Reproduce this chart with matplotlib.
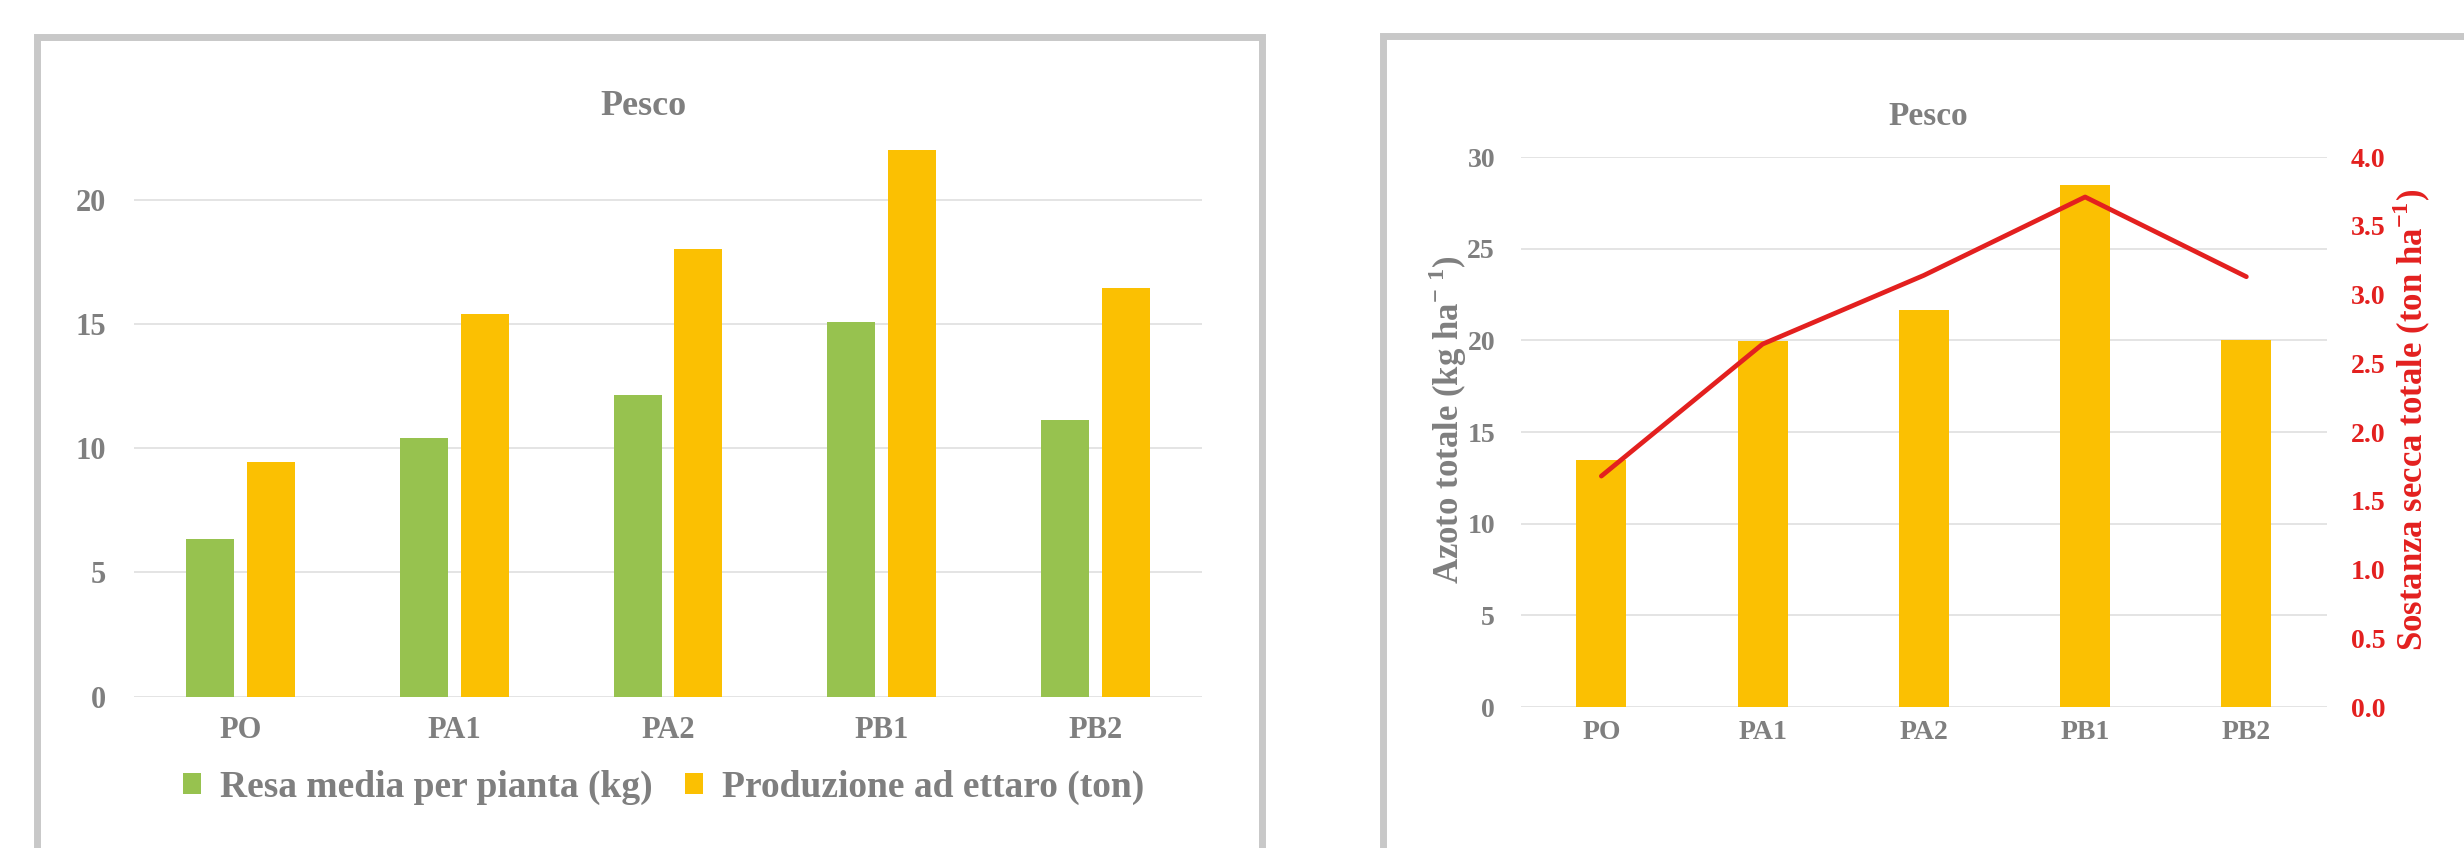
import matplotlib
matplotlib.use("Agg")
import matplotlib.pyplot as plt
from matplotlib.patches import Patch, Rectangle

# ---- data ----
categories = ["PO", "PA1", "PA2", "PB1", "PB2"]
resa_media = [6.36, 10.4, 12.15, 15.1, 11.13]            # kg per pianta
produzione_ettaro = [9.43, 15.42, 18.04, 22.02, 16.47]   # ton per ettaro
azoto_totale = [13.48, 19.96, 21.64, 28.5, 20.0]          # kg ha-1
sostanza_secca = [1.68, 2.64, 3.14, 3.71, 3.13]           # ton ha-1

left_ticks = [0, 5, 10, 15, 20]
right_ticks = [0, 5, 10, 15, 20, 25, 30]
secca_ticks = [0.0, 0.5, 1.0, 1.5, 2.0, 2.5, 3.0, 3.5, 4.0]

# ---- style ----
GREEN = "#97C24F"
GOLD = "#FBC002"
RED = "#E3201F"
TEXT = "#7F7F7F"
GRID = "#DCDCDC"
FRAME = "#C8C8C8"

plt.rcParams["font.family"] = ["Liberation Serif", "DejaVu Serif"]
plt.rcParams["font.weight"] = "bold"
plt.rcParams["mathtext.fontset"] = "custom"
plt.rcParams["mathtext.rm"] = "Liberation Serif:bold"
plt.rcParams["mathtext.bf"] = "Liberation Serif:bold"

W, H = 2464, 848
fig = plt.figure(figsize=(W / 100, H / 100), dpi=100)
fig.patch.set_facecolor("white")


def px_rect(x0, x1, ybot, ytop):
    return [x0 / W, 1 - ybot / H, (x1 - x0) / W, (ybot - ytop) / H]


# chart-area frames
fig.patches.append(Rectangle((36.5 / W, -0.2), (1262 - 36.5) / W, 1.2 - 36.5 / H,
                             transform=fig.transFigure, fill=False,
                             edgecolor=FRAME, linewidth=5.0))
fig.patches.append(Rectangle((1383 / W, -0.2), (2700 - 1383) / W, 1.2 - 36 / H,
                             transform=fig.transFigure, fill=False,
                             edgecolor=FRAME, linewidth=5.0))


def style_axis(ax, size, xpad, ypad):
    for s in ax.spines.values():
        s.set_visible(False)
    ax.set_axisbelow(True)
    ax.yaxis.grid(True, color=GRID, linewidth=1.1)
    ax.tick_params(axis="both", length=0, colors=TEXT, labelsize=size)
    ax.tick_params(axis="x", pad=xpad)
    ax.tick_params(axis="y", pad=ypad)


# ---- left chart: grouped bars ----
ax1 = fig.add_axes(px_rect(134, 1202, 696.6, 696.6 - 22.5 * 24.83))
x = list(range(len(categories)))
w = 0.225
off = 0.1425
ax1.bar([i - off for i in x], resa_media, width=w, color=GREEN,
        label="Resa media per pianta (kg)")
ax1.bar([i + off for i in x], produzione_ettaro, width=w, color=GOLD,
        label="Produzione ad ettaro (ton)")
ax1.set_xlim(-0.5, len(categories) - 0.5)
ax1.set_ylim(0, 22.5)
ax1.set_yticks(left_ticks)
ax1.set_xticks(x)
ax1.set_xticklabels(categories)
style_axis(ax1, 22, 14, 20)
fig.text(643 / W, 1 - 115 / H, "Pesco", ha="center", va="baseline",
         fontsize=26, color=TEXT, fontweight="bold")
handles = [Patch(facecolor=GREEN), Patch(facecolor=GOLD)]
leg = ax1.legend(handles, ["Resa media per pianta (kg)", "Produzione ad ettaro (ton)"],
                 loc="center", bbox_to_anchor=(0.4958, -0.162), ncol=2,
                 frameon=False, fontsize=27, handlelength=0.5, handleheight=0.5,
                 handletextpad=0.5, columnspacing=0.85, borderpad=0, borderaxespad=0)
for t in leg.get_texts():
    t.set_color(TEXT)

# ---- right chart: bars + line on secondary axis ----
ax2 = fig.add_axes(px_rect(1520.7, 2327, 707.1, 157.1))
ax2.bar(x, azoto_totale, width=0.31, color=GOLD)
ax2.set_xlim(-0.5, len(categories) - 0.5)
ax2.set_ylim(0, 30)
ax2.set_yticks(right_ticks)
ax2.set_xticks(x)
ax2.set_xticklabels(categories)
style_axis(ax2, 20, 9.5, 18.5)
ax2.text(-0.0902, 0.523, r"Azoto totale (kg ha$^{-\ 1}$)", transform=ax2.transAxes,
         rotation=90, ha="center", va="center", fontsize=25, color=TEXT,
         fontweight="bold")

ax3 = ax2.twinx()
ax3.plot(x, sostanza_secca, color=RED, linewidth=3.4,
         solid_capstyle="round", solid_joinstyle="round")
ax3.set_ylim(0, 4)
ax3.set_yticks(secca_ticks)
ax3.set_yticklabels([f"{v:.1f}" for v in secca_ticks])
for s in ax3.spines.values():
    s.set_visible(False)
ax3.tick_params(axis="y", length=0, colors=RED, labelsize=20, pad=17)
ax3.text(1.1054, 0.523, r"Sostanza secca totale (ton ha$^{-1}$)", transform=ax3.transAxes,
         rotation=90, ha="center", va="center", fontsize=25, color=RED,
         fontweight="bold")
fig.text(1928 / W, 1 - 125 / H, "Pesco", ha="center", va="baseline",
         fontsize=24, color=TEXT, fontweight="bold")

fig.savefig("out.png", dpi=100, facecolor="white")
